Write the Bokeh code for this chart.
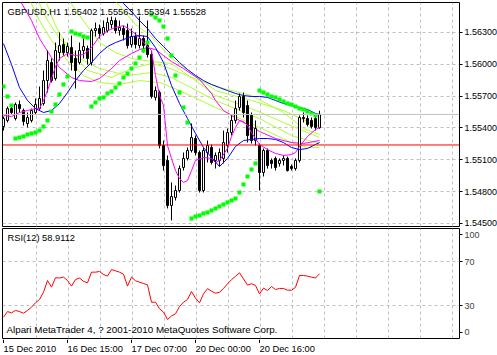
from bokeh.plotting import figure
from bokeh.models import Range1d, FixedTicker, Grid, PrintfTickFormatter, Span, Label, ColumnDataSource
from bokeh.layouts import column
from bokeh.embed import file_html
from bokeh.resources import INLINE
from bokeh.core.properties import value

# ---------------- data ----------------
bars = list(range(80))
open_ = [1.55414,1.55471,1.55583,1.55489,1.55621,1.55565,1.55442,1.55471,1.55546,1.55583,
         1.55631,1.55847,1.56017,1.55866,1.56111,1.56187,1.56111,1.56158,1.56055,1.56017,
         1.56130,1.56149,1.56017,1.56318,1.56337,1.56290,1.56318,1.56375,1.56413,1.56318,
         1.56337,1.56318,1.56187,1.56262,1.56177,1.56243,1.56177,1.56092,1.55688,1.55734,
         1.55235,1.55094,1.54670,1.54745,1.54811,1.55028,1.55113,1.55188,1.55301,1.55169,
         1.54811,1.55169,1.55216,1.55094,1.55094,1.55113,1.55235,1.55357,1.55471,1.55593,
         1.55697,1.55612,1.55518,1.55282,1.55235,1.54981,1.55188,1.55094,1.55113,1.55066,
         1.55094,1.55113,1.55037,1.55018,1.55094,1.55499,1.55489,1.55471,1.55489,1.55402]
high = [1.55508,1.55602,1.55612,1.55640,1.55659,1.55583,1.55546,1.55583,1.55678,1.55791,
        1.55942,1.56130,1.56055,1.56205,1.56300,1.56243,1.56205,1.56271,1.56130,1.56205,
        1.56243,1.56177,1.56337,1.56394,1.56375,1.56413,1.56441,1.56450,1.56441,1.56413,
        1.56365,1.56384,1.56337,1.56300,1.56450,1.56271,1.56413,1.56130,1.55791,1.55753,
        1.55282,1.55141,1.54887,1.54858,1.55047,1.55169,1.55216,1.55442,1.55329,1.55188,
        1.55216,1.55282,1.55245,1.55169,1.55207,1.55376,1.55395,1.55518,1.55659,1.55725,
        1.55734,1.55659,1.55546,1.55471,1.55254,1.55207,1.55207,1.55113,1.55131,1.55113,
        1.55141,1.55131,1.55056,1.55113,1.55518,1.55546,1.55518,1.55499,1.55508,1.55563]
low = [1.55376,1.55452,1.55527,1.55471,1.55546,1.55423,1.55405,1.55452,1.55527,1.55565,
       1.55612,1.55734,1.55829,1.55847,1.56036,1.56083,1.56073,1.55942,1.55772,1.55998,
       1.56055,1.55998,1.55989,1.56262,1.56243,1.56271,1.56300,1.56337,1.56290,1.56271,
       1.56224,1.56149,1.56158,1.56149,1.56149,1.56111,1.56064,1.55678,1.55659,1.55207,
       1.54999,1.54642,1.54529,1.54717,1.54792,1.54999,1.55094,1.55169,1.55141,1.54792,
       1.54792,1.55075,1.55056,1.55018,1.55037,1.55066,1.55169,1.55329,1.55442,1.55565,
       1.55499,1.55263,1.55254,1.55235,1.54811,1.54943,1.55018,1.55018,1.54999,1.55037,
       1.55047,1.54990,1.54999,1.54999,1.55075,1.55452,1.55414,1.55395,1.55376,1.55394]
close = [1.55489,1.55583,1.55546,1.55621,1.55583,1.55461,1.55499,1.55565,1.55621,1.55678,
         1.55847,1.56036,1.55847,1.56130,1.56177,1.56111,1.56168,1.56017,1.55942,1.56130,
         1.56168,1.56055,1.56318,1.56337,1.56290,1.56347,1.56394,1.56413,1.56318,1.56347,
         1.56281,1.56177,1.56262,1.56187,1.56243,1.56177,1.56092,1.55697,1.55753,1.55235,
         1.55047,1.54670,1.54755,1.54811,1.55018,1.55113,1.55188,1.55310,1.55169,1.54811,
         1.55188,1.55235,1.55075,1.55141,1.55169,1.55263,1.55357,1.55471,1.55583,1.55697,
         1.55546,1.55329,1.55282,1.55395,1.54981,1.55188,1.55047,1.55066,1.55028,1.55094,
         1.55113,1.54999,1.55018,1.55094,1.55499,1.55489,1.55433,1.55414,1.55405,1.55528]
sar = [1.55791,1.55697,1.55612,1.55301,1.55310,1.55320,1.55339,1.55348,1.55357,1.55376,
       1.55414,1.55471,1.55555,1.55621,1.55716,1.55810,1.55885,1.56309,1.56290,1.56281,
       1.56262,1.56252,1.55602,1.55640,1.55678,1.55688,1.55725,1.55744,1.55781,1.55819,
       1.55876,1.55913,1.55960,1.56008,1.56064,1.56130,1.56205,1.56469,1.56441,1.56413,
       1.56356,1.56243,1.56083,1.55895,1.55734,1.55593,1.55452,1.54547,1.54566,1.54576,
       1.54595,1.54604,1.54623,1.54642,1.54661,1.54680,1.54699,1.54717,1.54736,1.54792,
       1.54868,1.54943,1.55009,1.55066,1.55753,1.55734,1.55716,1.55697,1.55688,1.55669,
       1.55650,1.55631,1.55621,1.55602,1.55583,1.55574,1.55555,1.55537,1.55518,1.54802]
rsi = [19.4,24.5,23.3,25.5,24.5,23.0,25.5,28.5,32.5,35.5,
       42.0,52.7,46.7,55.2,55.0,55.8,52.7,47.6,53.6,55.0,
       52.0,50.6,60.3,60.3,60.9,58.2,56.7,62.7,61.5,60.3,
       58.5,47.6,55.8,52.5,51.2,50.0,48.8,33.0,33.0,27.0,
       24.0,17.3,20.5,22.5,29.0,33.0,35.5,42.7,36.7,32.4,
       40.6,45.3,43.0,41.2,42.0,45.5,49.7,53.5,56.5,59.7,
       54.2,48.5,49.8,48.2,40.6,45.8,43.6,47.3,44.5,45.5,
       45.5,43.9,43.9,46.5,57.3,57.3,56.7,55.8,55.0,58.9112]

ma_blue_fast_bar = [0,2,4,6,8,10,12,14,16,18,20,22,24,26,28,30,32,34,36,38,40,42,44,46,48,50,
                    52,54,56,58,60,62,64,66,68,70,72,74,76,78,79]
ma_blue_fast = [1.56196,1.55998,1.55781,1.55659,1.55583,1.55546,1.55565,1.55631,1.55734,1.55847,
                1.55942,1.56017,1.56102,1.56168,1.56205,1.56234,1.56262,1.56271,1.56262,1.56158,
                1.56017,1.55800,1.55631,1.55489,1.55348,1.55216,1.55122,1.55037,1.55113,1.55226,
                1.55282,1.55292,1.55301,1.55301,1.55292,1.55263,1.55216,1.55197,1.55207,1.55245,1.55263]
ma_blue_slow_bar = [28,30,32,34,36,38,40,42,44,46,48,50,52,54,56,58,60,62,64,66,68,70,72,74,76,78,79]
ma_blue_slow = [1.56676,1.56573,1.56497,1.56413,1.56337,1.56243,1.56168,1.56092,1.56017,1.55951,
                1.55895,1.55847,1.55810,1.55781,1.55753,1.55725,1.55706,1.55697,1.55697,1.55688,
                1.55659,1.55631,1.55612,1.55593,1.55574,1.55537,1.55527]
ma_mag_fast_bar = [0,2,4,6,8,9,10,11,12,13,14,16,18,20,22,24,26,28,30,32,34,36,37,38,39,40,41,42,43,
                   44,45,46,47,48,50,52,53,54,56,57,58,59,60,61,62,63,64,66,68,70,72,73,74,76,78,79]
ma_mag_fast = [1.55518,1.55508,1.55546,1.55565,1.55583,1.55583,1.55659,1.55753,1.55866,1.55979,
               1.56055,1.56102,1.56083,1.56092,1.56158,1.56262,1.56318,1.56347,1.56365,1.56318,
               1.56252,1.56168,1.56130,1.55895,1.55706,1.55612,1.55235,1.55113,1.54999,1.54924,
               1.54887,1.54905,1.54999,1.55094,1.55122,1.55113,1.55075,1.55094,1.55207,1.55320,
               1.55405,1.55471,1.55461,1.55423,1.55357,1.55301,1.55245,1.55197,1.55160,1.55141,
               1.55150,1.55169,1.55226,1.55320,1.55386,1.55405]
ma_mag_slow_bar = [3,7,9,12,14,17,19,22,24,27,29,32,34,36,38,40,42,45,49,52,53,55,57,59,62,64,68,72,75,79]
ma_mag_slow = [1.56676,1.56413,1.56243,1.56064,1.55970,1.55876,1.55847,1.55838,1.55866,1.55960,
               1.56036,1.56102,1.56139,1.56158,1.56139,1.56083,1.56026,1.55960,1.55857,1.55725,
               1.55659,1.55565,1.55518,1.55471,1.55414,1.55367,1.55301,1.55263,1.55254,1.55282]
ma_g1_bar = [26,29,33,37,42,47,53,62,70,77,79]
ma_g1 = [1.56676,1.56554,1.56375,1.56262,1.56055,1.55923,1.55753,1.55659,1.55565,1.55442,1.55414]
ma_g2_bar = [15,19,24,28,32,37,42,48,53,62,70,79]
ma_g2 = [1.56676,1.56460,1.56205,1.56111,1.56055,1.56026,1.56008,1.55847,1.55706,1.55583,
         1.55452,1.55310]
ma_g3_bar = [10,13,16,21,27,32,37,41,49,55,62,70,75,79]
ma_g3 = [1.56648,1.56365,1.56158,1.55942,1.55876,1.55960,1.56008,1.55970,1.55847,1.55772,
         1.55706,1.55546,1.55395,1.55339]
ma_g4_bar = [8,11,14,19,24,31,37,42,53,64,72,79]
ma_g4 = [1.56648,1.56413,1.56243,1.56055,1.55960,1.55895,1.55923,1.55876,1.55659,1.55489,
         1.55329,1.55254]
ma_g5_bar = [6,9,12,16,20,24,29,34,39,44,53,64,72,76,79]
ma_g5 = [1.56648,1.56413,1.56224,1.56036,1.55895,1.55829,1.55810,1.55847,1.55829,1.55753,
         1.55593,1.55405,1.55263,1.55216,1.55216]

price_ticks = [1.545, 1.548, 1.551, 1.554, 1.557, 1.560, 1.563]
time_tick_bars = [0, 16, 32, 48, 64]
time_tick_labels = ["15 Dec 2010", "16 Dec 15:00", "17 Dec 07:00", "20 Dec 00:00", "20 Dec 16:00"]
title_text = "GBPUSD,H1  1.55402 1.55563 1.55394 1.55528"
rsi_text = "RSI(12) 58.9112"
copyright_text = "Alpari MetaTrader 4, ? 2001-2010 MetaQuotes Software Corp."
last_bid = 1.55528
red_level = 1.55240
rsi_levels = [30, 70]
rsi_scale_ticks = [5.5, 30, 70, 94.5]
rsi_scale_labels = ["0", "30", "70", "100"]

# ---------------- style ----------------
FONT = "Liberation Sans"
FS = "9.3px"
AFS = "9px"
GRID = "#C0C0C0"
GREEN = "#ADFF2F"
VGRID = [8 * k + 0.25 for k in range(1, 15)]

x_range = Range1d(-0.25, 114.0)

p = figure(frame_width=457, frame_height=224, x_range=x_range,
           y_range=Range1d(1.544717, 1.565827), output_backend="svg",
           toolbar_location=None, x_axis_location=None, y_axis_location="right",
           min_border_left=2, min_border_top=2, min_border_bottom=1, min_border_right=38,
           outline_line_color="black",
           background_fill_color="white", border_fill_color="white")
p.grid.visible = False
p.add_layout(Grid(dimension=0, ticker=FixedTicker(ticks=VGRID),
                  grid_line_color=GRID, grid_line_dash="3 3"))
p.add_layout(Grid(dimension=1, ticker=FixedTicker(ticks=price_ticks),
                  grid_line_color=GRID, grid_line_dash="3 3"))

ax = p.yaxis[0]
ax.ticker = FixedTicker(ticks=price_ticks)
ax.formatter = PrintfTickFormatter(format="%.5f")
ax.axis_line_color = None
ax.major_tick_in = 0
ax.major_tick_out = 3
ax.minor_tick_line_color = None
ax.major_label_standoff = 2
ax.major_label_text_font = FONT
ax.major_label_text_font_size = AFS
ax.major_label_text_color = "black"

p.add_layout(Span(location=last_bid, dimension="width", line_color="#C0C0C0", line_width=1))
p.add_layout(Span(location=red_level, dimension="width", line_color="#FF0000", line_width=1))

for xs, ys in [(ma_g1_bar, ma_g1), (ma_g2_bar, ma_g2), (ma_g3_bar, ma_g3),
               (ma_g4_bar, ma_g4), (ma_g5_bar, ma_g5)]:
    p.line(xs, ys, line_color=GREEN, line_width=1)
p.line(ma_mag_slow_bar, ma_mag_slow, line_color="#FF00FF", line_width=1)
p.line(ma_blue_slow_bar, ma_blue_slow, line_color="#0000FF", line_width=1)

top = [max(o, c) for o, c in zip(open_, close)]
bot = [min(o, c) for o, c in zip(open_, close)]
fill = ["white" if c >= o else "black" for o, c in zip(open_, close)]
src = ColumnDataSource(dict(x=bars, o=open_, h=high, l=low, c=close, top=top, bot=bot, fill=fill))
p.segment(x0="x", y0="l", x1="x", y1="h", source=src, line_color="black", line_width=1)
p.vbar(x="x", width=0.5, top="top", bottom="bot", source=src, fill_color="fill",
       line_color="black", line_width=1)

p.line(ma_mag_fast_bar, ma_mag_fast, line_color="#FF00FF", line_width=1)
p.line(ma_blue_fast_bar, ma_blue_fast, line_color="#0000FF", line_width=1)

p.scatter(bars, sar, marker="square", size=3.5, fill_color="#00FF00", line_color="#00FF00",
          line_width=0.5)

p.add_layout(Label(x=-0.25, y=1.565827, x_offset=5, y_offset=-9, text=title_text,
                   text_font=FONT, text_font_size=FS, text_color="black",
                   text_baseline="middle", text_align="left"))
for lvl, bg in [(last_bid, "black"), (red_level, "#FF0000")]:
    p.add_layout(Label(x=114.0, y=lvl, x_offset=4, text="%.5f" % lvl,
                       text_font=FONT, text_font_size=AFS, text_color="white",
                       text_baseline="middle", text_align="left",
                       background_fill_color=bg,
                       padding=dict(left=2, right=1, top=1, bottom=1)))

# ---------------- RSI panel ----------------
r = figure(frame_width=457, frame_height=110, x_range=x_range, y_range=Range1d(0, 100),
           output_backend="svg", toolbar_location=None, y_axis_location="right",
           x_axis_location=None,
           min_border_left=2, min_border_top=1, min_border_bottom=1, min_border_right=0,
           outline_line_color="black",
           background_fill_color="white", border_fill_color="white")
r.grid.visible = False
r.add_layout(Grid(dimension=0, ticker=FixedTicker(ticks=VGRID),
                  grid_line_color=GRID, grid_line_dash="3 3"))
r.add_layout(Grid(dimension=1, ticker=FixedTicker(ticks=rsi_levels),
                  grid_line_color=GRID, grid_line_dash="3 3"))

ry = r.yaxis[0]
ry.ticker = FixedTicker(ticks=rsi_scale_ticks)
ry.major_label_overrides = dict(zip(rsi_scale_ticks, rsi_scale_labels))
ry.axis_line_color = None
ry.major_tick_in = 0
ry.major_tick_out = 3
ry.minor_tick_line_color = None
ry.major_label_standoff = 2
ry.major_label_text_font = FONT
ry.major_label_text_font_size = AFS

r.line(bars, rsi, line_color="#FF0000", line_width=1)

r.add_layout(Label(x=-0.25, y=100, x_offset=5, y_offset=-9.5, text=rsi_text,
                   text_font=FONT, text_font_size=FS, text_color="black",
                   text_baseline="middle", text_align="left"))
r.add_layout(Label(x=-0.25, y=0, x_offset=4, y_offset=9, text=copyright_text,
                   text_font=FONT, text_font_size="9.8px", text_color="black",
                   text_baseline="middle", text_align="left"))

# ---------------- time scale strip ----------------
t = figure(frame_width=457, frame_height=16, x_range=x_range, y_range=Range1d(0, 16),
           output_backend="svg", toolbar_location=None, x_axis_location=None,
           y_axis_location=None, min_border_left=2, min_border_top=0, min_border_bottom=0,
           min_border_right=0, outline_line_color=None,
           background_fill_color="white", border_fill_color="white")
t.grid.visible = False
t.segment(x0=time_tick_bars, y0=[16] * 5, x1=time_tick_bars, y1=[12.5] * 5,
          line_color="black", line_width=1)
t.text(x=time_tick_bars, y=[11.5] * 5, text=time_tick_labels, text_font=value(FONT),
       text_font_size=FS, text_color="black", text_baseline="top", text_align="left")

layout = column(p, r, t, spacing=0)
open("out.html", "w").write(file_html(layout, INLINE))
